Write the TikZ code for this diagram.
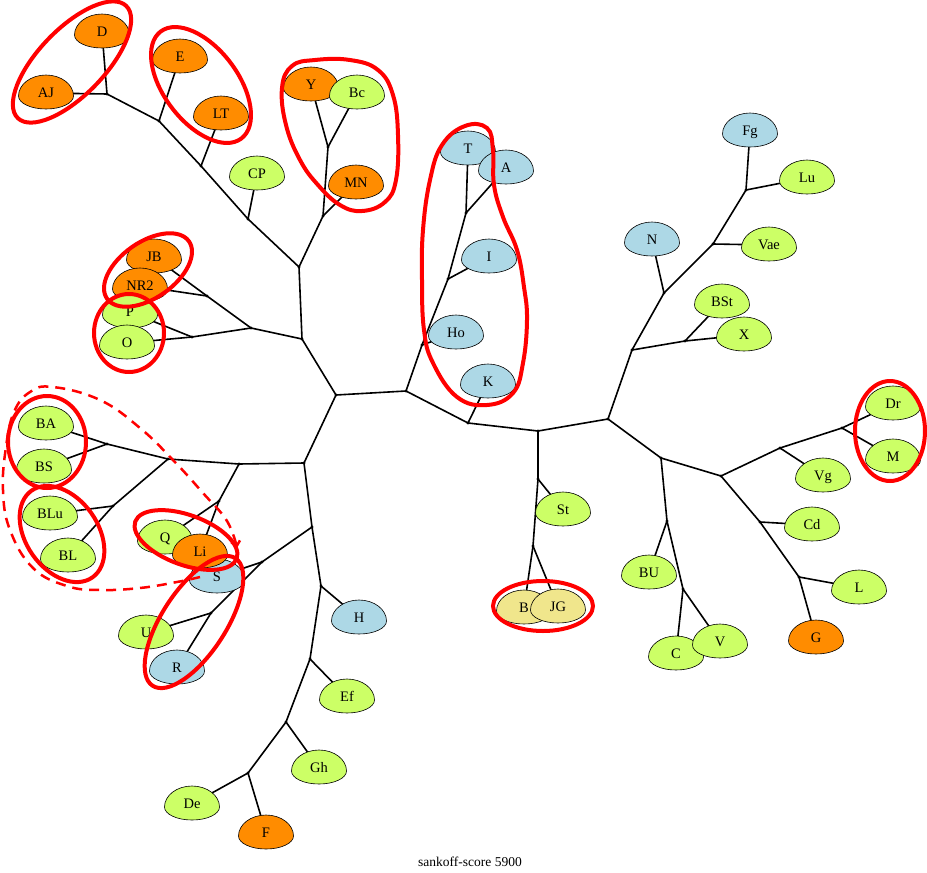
\documentclass[tikz,border=0pt]{standalone}
\usepackage{fontspec}
\setmainfont{Liberation Serif}
\usetikzlibrary{calc,arrows.meta}
\pgfdeclarelayer{bg}
\pgfdeclarelayer{egg}
\pgfsetlayers{bg,egg,main}
\definecolor{orng}{HTML}{FF8C00}
\definecolor{grn}{HTML}{CCFF66}
\definecolor{blu}{HTML}{ADD8E6}
\definecolor{khk}{HTML}{F0E68C}
\definecolor{ringred}{HTML}{FF0000}
\tikzset{
 leaf/.style={inner sep=0pt, font=\fontsize{14.5}{16}\selectfont, text height=9.5pt, text depth=0pt},
 junction/.style={circle, fill=black, inner sep=0pt, minimum size=3.2pt},
 edge/.style={draw=black, line width=1.6pt},
 eggline/.style={draw=black, line width=0.6pt},
 ring/.style={draw=ringred, line width=4pt},
 dashring/.style={draw=ringred, line width=2.5pt, dash pattern=on 10pt off 7pt},
}
\newcommand\egg[5]{%
 \node[leaf] (#1) at (#2,#3) {#4};
 \begin{pgfonlayer}{egg}
 \path[eggline, fill=#5] ($(#1.center)+(-27.5pt,-3pt)$)
   arc[start angle=180,end angle=0,x radius=27.5pt,y radius=21pt]
   arc[start angle=0,end angle=-180,x radius=27.5pt,y radius=13pt] -- cycle;
 \end{pgfonlayer}}
\begin{document}
\begin{tikzpicture}[x=1pt,y=-1pt]
\useasboundingbox (0,0) rectangle (927,873);
% junctions
\foreach \n/\x/\y in {n1/107/94, n2/159/121, n3/201/166, n4/248/219, n5/299/267,
 n6/207/296, n7/251/328, n8/192/337, n9/302/339, n10/336/395, n11/304/463,
 n12/239/464, n13/168/459, n14/107/444, n15/113/506, n16/219/501, n17/312/527,
 n18/262/562, n19/211/613, n20/321/586, n21/310/659, n22/286/722, n23/248/773,
 n24/328/147, n25/323/216, n26/466/213, n27/448/279, n28/422/345, n29/406/391,
 n30/468/423, n31/538/431, n32/608/419, n33/538/479, n34/533/546, n35/746/190,
 n36/713/244, n37/664/293, n38/685/341, n39/632/350, n40/661/458, n41/721/476,
 n42/780/448, n43/842/428, n44/760/522, n45/799/577, n46/667/521, n47/683/589}
 \node[junction] (\n) at (\x,\y) {};
% leaves
\egg{D}{102}{32}{D}{orng}
\egg{AJ}{46}{93}{AJ}{orng}
\egg{E}{180}{57}{E}{orng}
\egg{LT}{221}{114}{LT}{orng}
\egg{CP}{257}{174}{CP}{grn}
\egg{Y}{311}{85}{Y}{orng}
\egg{Bc}{357}{93}{Bc}{grn}
\egg{MN}{356}{183}{MN}{orng}
\egg{JB}{154}{257}{JB}{orng}
\egg{NR2}{140}{286}{NR2}{orng}
\egg{P}{130}{312}{P}{grn}
\egg{O}{127}{343}{O}{grn}
\egg{BA}{46}{424}{BA}{grn}
\egg{BS}{44}{467}{BS}{grn}
\egg{BLu}{50}{514}{BLu}{grn}
\egg{BL}{68}{556}{BL}{grn}
\egg{Q}{165}{538}{Q}{grn}
\egg{S}{217}{577}{S}{blu}
\egg{Li}{200}{552}{Li}{orng}
\egg{U}{146}{633}{U}{grn}
\egg{R}{177}{668}{R}{blu}
\egg{H}{359}{618}{H}{blu}
\egg{Ef}{347}{697}{Ef}{grn}
\egg{Gh}{319}{768}{Gh}{grn}
\egg{De}{192}{804}{De}{grn}
\egg{F}{266}{833}{F}{orng}
\egg{T}{468}{149}{T}{blu}
\egg{A}{506}{168}{A}{blu}
\egg{I}{489}{257}{I}{blu}
\egg{Ho}{456}{333}{Ho}{blu}
\egg{K}{488}{382}{K}{blu}
\egg{St}{563}{510}{St}{grn}
\egg{B}{524}{608}{B}{khk}
\egg{JG}{558}{607}{JG}{khk}
\egg{Fg}{750}{131}{Fg}{blu}
\egg{Lu}{807}{178}{Lu}{grn}
\egg{Vae}{769}{245}{Vae}{grn}
\egg{N}{652}{240}{N}{blu}
\egg{BSt}{722}{302}{BSt}{grn}
\egg{X}{744}{335}{X}{grn}
\egg{Vg}{823}{476}{Vg}{grn}
\egg{Dr}{893}{404}{Dr}{grn}
\egg{M}{893}{457}{M}{grn}
\egg{Cd}{812}{525}{Cd}{grn}
\egg{L}{859}{588}{L}{grn}
\egg{G}{816}{638}{G}{orng}
\egg{BU}{649}{573}{BU}{grn}
\egg{C}{676}{654}{C}{grn}
\egg{V}{720}{642}{V}{grn}
% edges
\begin{pgfonlayer}{bg}
\foreach \a/\b in {n1/n2, n2/n3, n3/n4, n4/n5, n5/n9, n25/n5, n24/n25, n6/n7, n8/n7,
 n7/n9, n9/n10, n10/n11, n10/n29, n11/n12, n12/n13, n13/n14, n13/n15, n12/n16,
 n11/n17, n17/n18, n18/n19, n17/n20, n20/n21, n21/n22, n22/n23, n26/n27, n27/n28,
 n28/n29, n29/n30, n30/n31, n31/n32, n31/n33, n33/n34, n35/n36, n36/n37, n37/n39,
 n38/n39, n39/n32, n32/n40, n40/n41, n41/n42, n42/n43, n41/n44, n44/n45, n40/n46, n46/n47}
 \draw[edge] (\a.center) -- (\b.center);
\foreach \a/\b in {D/n1, AJ/n1, E/n2, LT/n3, CP/n4, Y/n24, Bc/n24, MN/n25, JB/n6,
 NR2/n6, P/n8, O/n8, BA/n14, BS/n14, BLu/n15, BL/n15, Q/n16, Li/n16, S/n18, U/n19,
 R/n19, H/n20, Ef/n21, Gh/n22, De/n23, F/n23, T/n26, A/n26, I/n27, Ho/n28, K/n30,
 St/n33, B/n34, JG/n34, Fg/n35, Lu/n35, Vae/n36, N/n37, BSt/n38, X/n38, Vg/n42,
 Dr/n43, M/n43, Cd/n44, L/n45, G/n45, BU/n46, C/n47, V/n47}
 \draw[edge] (\a.center) -- (\b.center);
\end{pgfonlayer}
% red rings
\draw[ring, rotate around={46:(72,62)}] (72,62) ellipse [x radius=78pt, y radius=33pt];
\draw[ring, rotate around={-53:(201,85)}] (201,85) ellipse [x radius=67pt, y radius=37pt];
\draw[ring] plot[smooth cycle, tension=0.7] coordinates {(282,88) (292,66) (315,60) (350,60) (378,70) (393,95) (398,135) (396,180) (385,202) (362,211) (340,205) (318,185) (300,160) (286,125)};
\draw[ring] plot[smooth cycle, tension=0.7] coordinates {(422,280) (423,230) (430,180) (442,145) (465,126) (487,128) (493,150) (494,185) (503,217) (517,250) (524,287) (527,320) (523,363) (513,393) (487,405) (457,397) (433,363) (424,330)};
\draw[ring, rotate around={35:(148,270)}] (148,270) ellipse [x radius=50pt, y radius=28pt];
\draw[ring] (129,333) ellipse [x radius=35pt, y radius=39pt];
\draw[ring] (47,442) ellipse [x radius=39pt, y radius=46pt];
\draw[ring, rotate around={-55:(62,534)}] (62,534) ellipse [x radius=53pt, y radius=36pt];
\draw[ring, rotate around={-20:(186,540)}] (186,540) ellipse [x radius=54pt, y radius=25pt];
\draw[ring, rotate around={57:(194,622)}] (194,622) ellipse [x radius=76pt, y radius=32pt];
\draw[ring] (890,431) ellipse [x radius=35pt, y radius=50pt];
\draw[ring] (543,606) ellipse [x radius=50pt, y radius=25pt];
\draw[dashring, -{Straight Barb[length=5pt,width=9pt]}] plot[smooth, tension=0.7] coordinates {(200,577) (177,582) (140,588) (100,590) (67,586) (33,568) (10,530) (3,490) (6,447) (14,412) (30,392) (53,387) (100,400) (140,428) (173,460) (203,493) (227,521) (237,548)};
% caption
\node[font=\fontsize{13.5}{15}\selectfont] (title) at (470,862) {sankoff-score 5900};
\end{tikzpicture}
\end{document}
